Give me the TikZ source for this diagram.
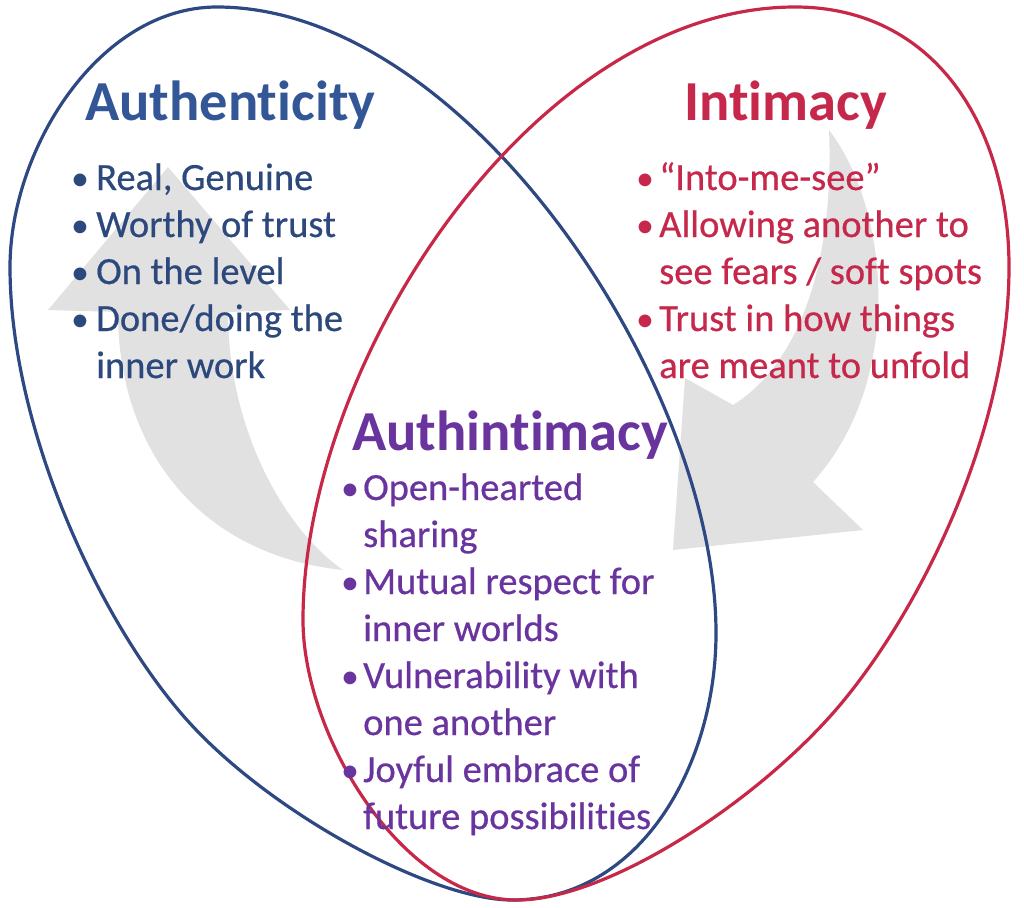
\documentclass[tikz,border=0pt]{standalone}
\usepackage{fontspec}
\setmainfont{Carlito}[Ligatures=NoCommon]
\newfontfamily\bodyfont{Carlito}[Ligatures=NoCommon, FakeBold=0.5]
\definecolor{tblue}{RGB}{50,86,150}
\definecolor{bblue}{RGB}{44,72,124}
\definecolor{lblue}{RGB}{45,72,130}
\definecolor{tred}{RGB}{198,40,76}
\definecolor{lred}{RGB}{200,40,72}
\definecolor{tpurple}{RGB}{106,52,158}
\definecolor{agray}{RGB}{225,225,225}
\begin{document}
\begin{tikzpicture}[x=1pt,y=-1pt,
  ttl/.style={font=\fontsize{56.5}{68}\selectfont\bfseries, inner sep=0pt, anchor=base west},
  txt/.style={font=\fontsize{38.5}{46.7}\selectfont\bodyfont, inner sep=0pt, anchor=base west},
  bul/.style={font=\fontsize{36}{46.7}\selectfont, inner sep=0pt, anchor=base},
  outline/.style={line width=3.2pt},
  bigarrow/.style={fill=agray, draw=none}
]
\useasboundingbox (0,0) rectangle (1024,907);
\fill[white] (0,0) rectangle (1024,907);

% left curved arrow (up)
\fill[bigarrow] (343,570) .. controls (200,555) and (118,450) .. (118,312)
  -- (48,310) -- (168,167) -- (290,310) -- (228,312)
  .. controls (228,430) and (285,530) .. (343,570) -- cycle;

% right curved arrow (down-left)
\fill[bigarrow] (829,130) .. controls (890,210) and (905,380) .. (813,482)
  -- (863,530) -- (673,550) -- (685,378) -- (733,405)
  .. controls (790,370) and (835,280) .. (829,130) -- cycle;

% blue outline
\draw[outline, lblue] (217,7) .. controls (467,7) and (716,383) .. (716,633)
  .. controls (716,763) and (642,900) .. (512,900)
  .. controls (430,900) and (262,809) .. (180,712)
  .. controls (95,612) and (10,424) .. (10,267)
  .. controls (10,149) and (99,7) .. (217,7) -- cycle;

% red outline
\draw[outline, lred] (795,7) .. controls (935,7) and (1009,127) .. (1009,267)
  .. controls (1009,424) and (927,601) .. (840,705)
  .. controls (758,802) and (607,900) .. (517,900)
  .. controls (402,900) and (303,735) .. (303,620)
  .. controls (303,360) and (535,7) .. (795,7) -- cycle;

% Authenticity
\node[ttl, tblue] (t1) at (85,120) {Authenticity};
\node[bul, bblue] (b11) at (80,190) {•};
\node[txt, bblue] (l11) at (96,190) {Real, Genuine};
\node[bul, bblue] (b12) at (80,237) {•};
\node[txt, bblue] (l12) at (96,237) {Worthy of trust};
\node[bul, bblue] (b13) at (80,284) {•};
\node[txt, bblue] (l13) at (96,284) {On the level};
\node[bul, bblue] (b14) at (80,331) {•};
\node[txt, bblue] (l14) at (96,331) {Done/doing the};
\node[txt, bblue] (l15) at (96,378) {inner work};

% Intimacy
\node[ttl, tred] (t2) at (684,120) {Intimacy};
\node[bul, tred] (b21) at (645,190) {•};
\node[txt, tred] (l21) at (659,190) {“Into-me-see”};
\node[bul, tred] (b22) at (645,237) {•};
\node[txt, tred] (l22) at (659,237) {Allowing another to};
\node[txt, tred] (l23) at (659,284) {see fears / soft spots};
\node[bul, tred] (b24) at (645,331) {•};
\node[txt, tred] (l24) at (659,331) {Trust in how things};
\node[txt, tred] (l25) at (659,378) {are meant to unfold};

% Authintimacy
\node[ttl, tpurple] (t3) at (352,450) {Authintimacy};
\node[bul, tpurple] (b31) at (350,500) {•};
\node[txt, tpurple] (l31) at (363,500) {Open-hearted};
\node[txt, tpurple] (l32) at (363,547) {sharing};
\node[bul, tpurple] (b33) at (350,594) {•};
\node[txt, tpurple] (l33) at (363,594) {Mutual respect for};
\node[txt, tpurple] (l34) at (363,641) {inner worlds};
\node[bul, tpurple] (b35) at (350,688) {•};
\node[txt, tpurple] (l35) at (363,688) {Vulnerability with};
\node[txt, tpurple] (l36) at (363,735) {one another};
\node[bul, tpurple] (b37) at (350,782) {•};
\node[txt, tpurple] (l37) at (363,782) {Joyful embrace of};
\node[txt, tpurple] (l38) at (363,829) {future possibilities};
\end{tikzpicture}
\end{document}
